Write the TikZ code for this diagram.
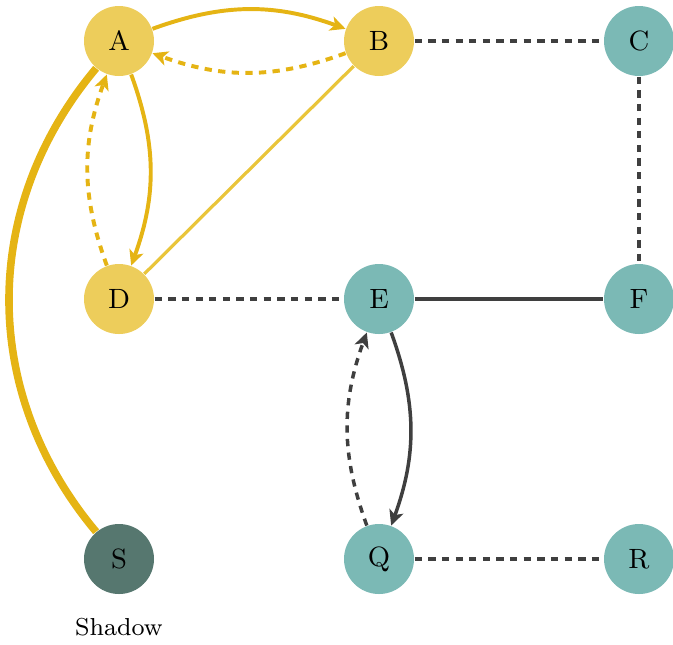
\documentclass[tikz,border=0pt]{standalone}
\usetikzlibrary{arrows.meta}
\definecolor{yelfill}{HTML}{EDCD5B}
\definecolor{yeledge}{HTML}{E5B414}
\definecolor{bdline}{HTML}{E9C53A}
\definecolor{tealfill}{HTML}{7BB9B5}
\definecolor{sdark}{HTML}{56776F}
\definecolor{greyedge}{HTML}{3F3F3F}
\tikzset{
  vtx/.style={circle, inner sep=0pt, minimum size=23.1pt, font=\fontsize{9.2}{11}\selectfont},
  yv/.style={vtx, fill=yelfill},
  tv/.style={vtx, fill=tealfill},
  sv/.style={vtx, fill=sdark},
  arr/.style={-{Stealth[length=5pt,width=4.8pt,inset=1.3pt]}},
  dsh/.style={dash pattern=on 2.4pt off 2.1pt},
  yedge/.style={draw=yeledge, line width=1.3pt},
  gedge/.style={draw=greyedge, line width=1.15pt},
}
\begin{document}
\begin{tikzpicture}[x=0.33pt, y=-0.33pt]
\useasboundingbox (0,0) rectangle (673,644);
\node[yv] (A) at (119,41) {A};
\node[yv] (B) at (379,41) {B};
\node[tv] (C) at (639,41) {C};
\node[yv] (D) at (119,299) {D};
\node[tv] (E) at (379,299) {E};
\node[tv] (F) at (639,299) {F};
\node[sv] (S) at (119,559) {S};
\node[tv] (Q) at (379,559) {Q};
\node[tv] (R) at (639,559) {R};
\node[font=\fontsize{8.1}{10}\selectfont] (lbl) at (119,627) {Shadow};

\draw[yedge, arr] (A) to[bend left=20] (B);
\draw[yedge, arr, dsh] (B) to[bend left=20] (A);
\draw[yedge, arr] (A) to[bend left=20] (D);
\draw[yedge, arr, dsh] (D) to[bend left=20] (A);
\draw[draw=bdline, line width=1.05pt] (B) -- (D);
\draw[draw=yeledge, line width=2.5pt] (S) to[bend left=40] (A);

\draw[gedge, dsh] (B) -- (C);
\draw[gedge, dsh] (C) -- (F);
\draw[gedge, dsh] (D) -- (E);
\draw[gedge] (E) -- (F);
\draw[gedge, dsh] (Q) -- (R);
\draw[gedge, arr] (E) to[bend left=20] (Q);
\draw[gedge, arr, dsh] (Q) to[bend left=20] (E);
\end{tikzpicture}
\end{document}
